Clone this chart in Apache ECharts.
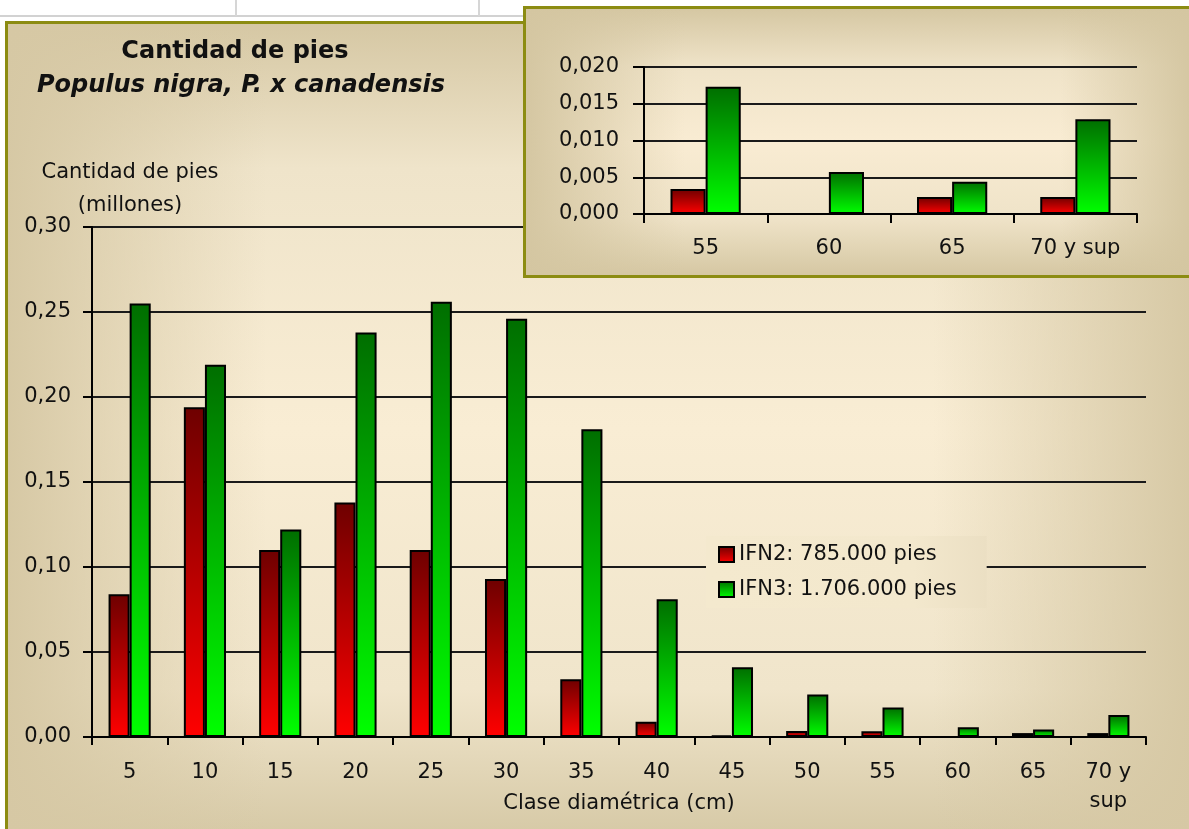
<!DOCTYPE html>
<html>
<head>
<meta charset="utf-8">
<title>Cantidad de pies - Populus nigra, P. x canadensis</title>
<script src="https://cdn.jsdelivr.net/npm/echarts@6/dist/echarts.min.js"></script>
<style>
  html, body { margin: 0; padding: 0; width: 1189px; height: 829px; overflow: hidden; background: #ffffff; }
  body { position: relative; font-family: "DejaVu Sans", sans-serif; }
  .sheet-h { position: absolute; left: 0; top: 15px; width: 1189px; height: 2px; background: #d2d2d2; }
  .sheet-v { position: absolute; top: 0; width: 2px; height: 16px; background: #d6d6d6; }
  /* chart area: beige rim fading to cream towards the middle */
  #frame {
    position: absolute; left: 5px; top: 21px; width: 1190px; height: 815px;
    box-shadow: inset 0 0 0 3px #8c8c12;
    background:
      linear-gradient(to right, rgba(214,200,164,1) 0%, rgba(214,200,164,0) 22%, rgba(214,200,164,0) 78%, rgba(214,200,164,1) 100%),
      linear-gradient(to bottom, #d5c7a3 0%, #efe4ca 18%, #f9edd4 50%, #f0e5cb 82%, #d6c9a6 100%);
  }
  #main { position: absolute; left: 0; top: 0; width: 1189px; height: 829px; }
  #inset {
    position: absolute; left: 523px; top: 6px; width: 672px; height: 272px;
    box-shadow: inset 0 0 0 3px #8c8c12;
    background:
      linear-gradient(to right, rgba(212,198,161,1) 0%, rgba(212,198,161,0) 24%, rgba(212,198,161,0) 80%, rgba(212,198,161,1) 100%),
      linear-gradient(to bottom, #d4c6a1 0%, #efe3c8 22%, #f9ecd3 50%, #efe3c8 78%, #d4c6a1 100%);
  }
</style>
</head>
<body>
<div class="sheet-h"></div>
<div class="sheet-v" style="left:235px"></div>
<div class="sheet-v" style="left:478px"></div>
<div id="frame"></div>
<div id="main"></div>
<div id="inset"></div>
<script>
// Diameter classes (cm) and number of trees (millions) per inventory
const categories = ['5', '10', '15', '20', '25', '30', '35', '40', '45', '50', '55', '60', '65', '70 y sup'];
const ifn2Values = [0.084, 0.194, 0.110, 0.138, 0.110, 0.093, 0.034, 0.009, 0.001, 0.0035, 0.0034, 0, 0.0023, 0.0023];
const ifn3Values = [0.255, 0.219, 0.122, 0.238, 0.256, 0.246, 0.181, 0.081, 0.041, 0.025, 0.0173, 0.0057, 0.0044, 0.0129];
const seriesNames = ['IFN2: 785.000 pies', 'IFN3: 1.706.000 pies'];
const mainTicks = { min: 0, max: 0.30, interval: 0.05 };
const insetTicks = { min: 0, max: 0.020, interval: 0.005 };
const insetFrom = 10; // the detail panel repeats the last four classes

const FONT = 'DejaVu Sans';
const INK = '#111111';

const redFill = {
  type: 'linear', x: 0, y: 0, x2: 0, y2: 1,
  colorStops: [{ offset: 0, color: '#6e0000' }, { offset: 1, color: '#ff0000' }]
};
const greenFill = {
  type: 'linear', x: 0, y: 0, x2: 0, y2: 1,
  colorStops: [{ offset: 0, color: '#006e00' }, { offset: 1, color: '#00ff00' }]
};
// legend panel tinted like the chart area behind it
const legendFill = {
  type: 'linear', x: 0, y: 0, x2: 1, y2: 0,
  colorStops: [{ offset: 0, color: '#f4e9ce' }, { offset: 0.74, color: '#f3e8cd' }, { offset: 1, color: '#ebdfc3' }]
};

function comma(v, digits) {
  return v.toFixed(digits).replace('.', ',');
}

function barSeries(name, data, fill, gap) {
  return {
    type: 'bar',
    name: name,
    data: data,
    barGap: '0%',
    barCategoryGap: gap,
    itemStyle: { color: fill, borderColor: '#000000', borderWidth: 2 },
    emphasis: { disabled: true },
    animation: false
  };
}

// ---------- main chart ----------
const main = echarts.init(document.getElementById('main'), null, { renderer: 'canvas' });
main.setOption({
  backgroundColor: 'transparent',
  animation: false,
  textStyle: { fontFamily: FONT, color: INK },
  graphic: [
    { type: 'text', x: 235, y: 52, style: { text: 'Cantidad de pies', font: 'bold 24px "DejaVu Sans"', fill: INK, textAlign: 'center', textVerticalAlign: 'middle' } },
    { type: 'text', x: 241, y: 86, style: { text: 'Populus nigra, P. x canadensis', font: 'italic bold 24px "DejaVu Sans"', fill: INK, textAlign: 'center', textVerticalAlign: 'middle' } },
    { type: 'text', x: 130, y: 173, style: { text: 'Cantidad de pies', font: '21px "DejaVu Sans"', fill: INK, textAlign: 'center', textVerticalAlign: 'middle' } },
    { type: 'text', x: 130, y: 206, style: { text: '(millones)', font: '21px "DejaVu Sans"', fill: INK, textAlign: 'center', textVerticalAlign: 'middle' } }
  ],
  legend: {
    orient: 'vertical',
    left: 706,
    top: 536,
    padding: [8, 30, 8, 12],
    icon: 'rect',
    itemWidth: 15,
    itemHeight: 15,
    itemGap: 14,
    backgroundColor: legendFill,
    selectedMode: false,
    textStyle: { fontFamily: FONT, fontSize: 21, color: INK },
    data: seriesNames
  },
  grid: { left: 92, right: 43, top: 227, bottom: 92, outerBoundsMode: 'none', containLabel: false },
  xAxis: {
    type: 'category',
    data: categories,
    name: 'Clase diamétrica (cm)',
    nameLocation: 'middle',
    nameGap: 56,
    nameMoveOverlap: false,
    nameTextStyle: { fontFamily: FONT, fontSize: 21, color: INK },
    axisLine: { lineStyle: { color: '#000000', width: 2 } },
    axisTick: { show: true, length: 8, lineStyle: { color: '#000000', width: 2 } },
    axisLabel: {
      fontFamily: FONT, fontSize: 21, color: INK, margin: 21, lineHeight: 29,
      interval: 0,
      formatter: function (v) { return v.replace(' sup', '\nsup'); }
    }
  },
  yAxis: {
    type: 'value',
    min: mainTicks.min,
    max: mainTicks.max,
    interval: mainTicks.interval,
    axisLine: { show: true, lineStyle: { color: '#000000', width: 2 } },
    axisTick: { show: true, length: 9, lineStyle: { color: '#000000', width: 2 } },
    axisLabel: { fontFamily: FONT, fontSize: 21, color: INK, margin: 21, formatter: function (v) { return comma(v, 2); } },
    splitLine: { show: true, lineStyle: { color: '#1a1a1a', width: 2 } }
  },
  series: [
    barSeries(seriesNames[0], ifn2Values, redFill, '44%'),
    barSeries(seriesNames[1], ifn3Values, greenFill, '44%')
  ]
});

// ---------- detail panel for the largest classes ----------
const inset = echarts.init(document.getElementById('inset'), null, { renderer: 'canvas' });
inset.setOption({
  backgroundColor: 'transparent',
  animation: false,
  textStyle: { fontFamily: FONT, color: INK },
  grid: { left: 121, right: 58, top: 61, bottom: 64, outerBoundsMode: 'none', containLabel: false },
  xAxis: {
    type: 'category',
    data: categories.slice(insetFrom),
    axisLine: { lineStyle: { color: '#000000', width: 2 } },
    axisTick: { show: true, length: 9, lineStyle: { color: '#000000', width: 2 } },
    axisLabel: { fontFamily: FONT, fontSize: 21, color: INK, margin: 24, interval: 0 }
  },
  yAxis: {
    type: 'value',
    min: insetTicks.min,
    max: insetTicks.max,
    interval: insetTicks.interval,
    axisLine: { show: true, lineStyle: { color: '#000000', width: 2 } },
    axisTick: { show: true, length: 11, lineStyle: { color: '#000000', width: 2 } },
    axisLabel: { fontFamily: FONT, fontSize: 21, color: INK, margin: 25, formatter: function (v) { return comma(v, 3); } },
    splitLine: { show: true, lineStyle: { color: '#1a1a1a', width: 2 } }
  },
  series: [
    barSeries(seriesNames[0], ifn2Values.slice(insetFrom), redFill, '43%'),
    barSeries(seriesNames[1], ifn3Values.slice(insetFrom), greenFill, '43%')
  ]
});
</script>
</body>
</html>
